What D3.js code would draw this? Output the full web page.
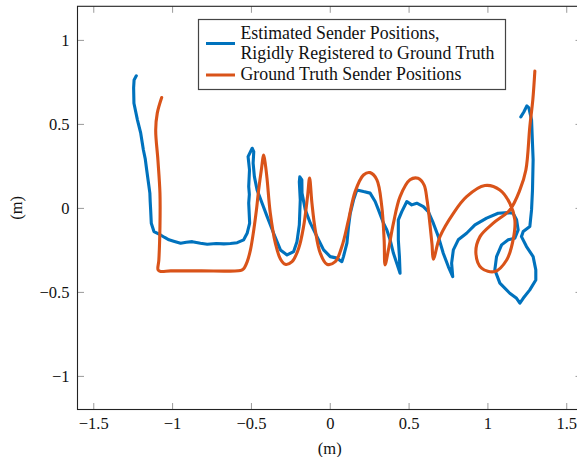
<!DOCTYPE html>
<html>
<head>
<meta charset="utf-8">
<script src="https://cdn.jsdelivr.net/npm/d3@7"></script>
<style>
  html, body { margin: 0; padding: 0; background: #fff; }
  svg { display: block; }
  text { font-family: "Liberation Serif", "DejaVu Serif", serif; fill: #111; }
</style>
</head>
<body>
<svg id="chart" width="577" height="457"></svg>
<script>
// Axis ticks and labels
const xTickValues = [-1.5, -1, -0.5, 0, 0.5, 1, 1.5];
const xTickLabels = ["\u22121.5", "\u22121", "\u22120.5", "0", "0.5", "1", "1.5"];
const yTickValues = [-1, -0.5, 0, 0.5, 1];
const yTickLabels = ["\u22121", "\u22120.5", "0", "0.5", "1"];

// Series names
const seriesNames = [
  ["Estimated Sender Positions,", "Rigidly Registered to Ground Truth"],
  ["Ground Truth Sender Positions"]
];

// Estimated sender positions (x, y) in metres
const estimatedX = [-1.227,-1.241,-1.244,-1.242,-1.220,-1.199,-1.182,-1.170,-1.161,-1.150,-1.141,-1.139,-1.136,-1.132,-1.115,-1.073,-1.047,-1.020,-0.990,-0.946,-0.910,-0.872,-0.820,-0.777,-0.720,-0.672,-0.630,-0.587,-0.546,-0.524,-0.508,-0.514,-0.510,-0.514,-0.509,-0.518,-0.492,-0.482,-0.486,-0.478,-0.461,-0.429,-0.397,-0.356,-0.313,-0.271,-0.229,-0.208,-0.193,-0.187,-0.193,-0.190,-0.177,-0.176,-0.155,-0.123,-0.081,-0.039,0.003,0.046,0.077,0.087,0.109,0.119,0.130,0.151,0.172,0.214,0.256,0.288,0.309,0.341,0.362,0.383,0.404,0.425,0.446,0.442,0.435,0.435,0.457,0.489,0.520,0.552,0.594,0.625,0.657,0.689,0.720,0.752,0.780,0.773,0.784,0.815,0.868,0.921,0.995,1.068,1.132,1.163,1.185,1.195,1.174,1.132,1.090,1.058,1.047,1.079,1.142,1.185,1.206,1.227,1.269,1.307,1.307,1.290,1.248,1.216,1.227,1.269,1.280,1.286,1.290,1.280,1.263,1.250,1.231,1.212];
const estimatedY = [0.786,0.762,0.714,0.623,0.524,0.445,0.345,0.290,0.226,0.150,0.088,0.040,-0.012,-0.091,-0.141,-0.161,-0.176,-0.190,-0.198,-0.210,-0.204,-0.201,-0.210,-0.216,-0.212,-0.214,-0.212,-0.207,-0.190,-0.151,-0.091,0.028,0.080,0.127,0.226,0.305,0.355,0.335,0.266,0.186,0.107,0.028,-0.052,-0.151,-0.250,-0.280,-0.260,-0.202,-0.101,0.048,0.155,0.185,0.167,0.088,-0.012,-0.091,-0.171,-0.250,-0.290,-0.299,-0.320,-0.290,-0.210,-0.111,-0.032,0.048,0.107,0.097,0.088,0.038,-0.012,-0.091,-0.131,-0.190,-0.270,-0.329,-0.389,-0.290,-0.190,-0.071,-0.022,0.038,0.018,0.028,0.008,-0.022,-0.091,-0.171,-0.270,-0.349,-0.409,-0.329,-0.250,-0.190,-0.151,-0.101,-0.061,-0.032,-0.028,-0.032,-0.071,-0.131,-0.180,-0.190,-0.220,-0.290,-0.369,-0.448,-0.508,-0.538,-0.567,-0.538,-0.488,-0.429,-0.369,-0.290,-0.230,-0.171,-0.141,-0.111,-0.012,0.107,0.286,0.524,0.595,0.607,0.571,0.542];

// Ground-truth sender positions (x, y) in metres
const truthX = [-1.066,-1.094,-1.104,-1.090,-1.077,-1.077,-1.084,-1.089,-1.073,-1.009,-0.820,-0.566,-0.547,-0.524,-0.503,-0.482,-0.465,-0.451,-0.434,-0.419,-0.408,-0.397,-0.377,-0.345,-0.313,-0.282,-0.239,-0.197,-0.166,-0.141,-0.128,-0.113,-0.092,-0.060,-0.018,0.035,0.077,0.119,0.161,0.214,0.256,0.299,0.330,0.345,0.351,0.372,0.404,0.446,0.509,0.560,0.598,0.617,0.636,0.649,0.657,0.699,0.784,0.868,0.984,1.079,1.142,1.174,1.163,1.122,1.047,0.963,0.927,0.953,1.037,1.142,1.206,1.244,1.269,1.288,1.301];
const truthY = [0.657,0.564,0.464,0.286,0.088,-0.111,-0.310,-0.369,-0.378,-0.375,-0.375,-0.372,-0.363,-0.321,-0.250,-0.131,-0.012,0.107,0.226,0.315,0.256,0.167,-0.032,-0.210,-0.304,-0.336,-0.320,-0.240,-0.111,0.067,0.177,0.028,-0.131,-0.270,-0.335,-0.320,-0.230,-0.071,0.097,0.196,0.210,0.167,0.008,-0.190,-0.339,-0.250,-0.091,0.067,0.167,0.176,0.137,0.048,-0.101,-0.220,-0.305,-0.171,-0.032,0.067,0.133,0.107,0.028,-0.071,-0.190,-0.310,-0.379,-0.359,-0.270,-0.171,-0.091,-0.012,0.107,0.226,0.484,0.643,0.815];

const colors = ["#0072BD", "#D95319"];

const svg = d3.select("#chart");
const plotLeft = 77.5, plotRight = 582, plotTop = 6.3, plotBottom = 409.5;

const x = d3.scaleLinear().domain([-1.6, 1.6]).range([plotLeft, plotRight]);
const y = d3.scaleLinear().domain([-1.2, 1.2]).range([plotBottom, plotTop]);

// Inward ticks on all four sides
const tickLen = 6.5;
const tickColor = "#9a9a9a";
function styleAxis(g) {
  g.select(".domain").remove();
  g.selectAll(".tick line").attr("stroke", tickColor).attr("stroke-width", 1);
  g.selectAll(".tick text").attr("font-size", 16.5).attr("fill", "#111");
}
svg.append("g").attr("transform", `translate(0,${plotBottom})`)
  .call(d3.axisBottom(x).tickValues(xTickValues).tickSize(-tickLen).tickPadding(8)
    .tickFormat((d, i) => xTickLabels[i]))
  .call(styleAxis);
svg.append("g").attr("transform", `translate(0,${plotTop})`)
  .call(d3.axisTop(x).tickValues(xTickValues).tickSize(-tickLen).tickFormat(""))
  .call(styleAxis);
svg.append("g").attr("transform", `translate(${plotLeft},0)`)
  .call(d3.axisLeft(y).tickValues(yTickValues).tickSize(-tickLen).tickPadding(8)
    .tickFormat((d, i) => yTickLabels[i]))
  .call(styleAxis);
svg.append("g").attr("transform", `translate(${plotRight},0)`)
  .call(d3.axisRight(y).tickValues(yTickValues).tickSize(-tickLen).tickFormat(""))
  .call(styleAxis);

// Trajectories
const estimated = estimatedX.map((v, i) => [v, estimatedY[i]]);
const truth = truthX.map((v, i) => [v, truthY[i]]);

svg.append("path").datum(estimated)
  .attr("d", d3.line().x(d => x(d[0])).y(d => y(d[1])).curve(d3.curveLinear))
  .attr("fill", "none").attr("stroke", colors[0]).attr("stroke-width", 3.1)
  .attr("stroke-linejoin", "round").attr("stroke-linecap", "round");
svg.append("path").datum(truth)
  .attr("d", d3.line().x(d => x(d[0])).y(d => y(d[1])).curve(d3.curveCatmullRom.alpha(0.5)))
  .attr("fill", "none").attr("stroke", colors[1]).attr("stroke-width", 3.1)
  .attr("stroke-linejoin", "round").attr("stroke-linecap", "round");

// Frame
svg.append("rect").attr("x", plotLeft).attr("y", plotTop)
  .attr("width", plotRight - plotLeft).attr("height", plotBottom - plotTop)
  .attr("fill", "none").attr("stroke", "#222").attr("stroke-width", 1.1);

// Axis titles
svg.append("text").attr("x", x(0)).attr("y", 453.5)
  .attr("text-anchor", "middle").attr("font-size", 16.5).text("(m)");
svg.append("text")
  .attr("transform", `translate(21.5,${y(0)}) rotate(-90)`)
  .attr("text-anchor", "middle").attr("font-size", 16.5).text("(m)");

// Legend
const lg = svg.append("g").attr("transform", "translate(198.5,19.5)");
lg.append("rect").attr("width", 307).attr("height", 70)
  .attr("fill", "#fff").attr("stroke", "#444").attr("stroke-width", 1.2);
const rows = [
  { lines: seriesNames[0], sampleY: 24, textY: 19 },
  { lines: seriesNames[1], sampleY: 55.5, textY: 60.5 }
];
rows.forEach((r, k) => {
  lg.append("line").attr("x1", 7.5).attr("x2", 36.5)
    .attr("y1", r.sampleY).attr("y2", r.sampleY)
    .attr("stroke", colors[k]).attr("stroke-width", 3);
  r.lines.forEach((t, j) => {
    lg.append("text").attr("x", 42).attr("y", r.textY + j * 20.8)
      .attr("font-size", 17.8).text(t);
  });
});
</script>
</body>
</html>
